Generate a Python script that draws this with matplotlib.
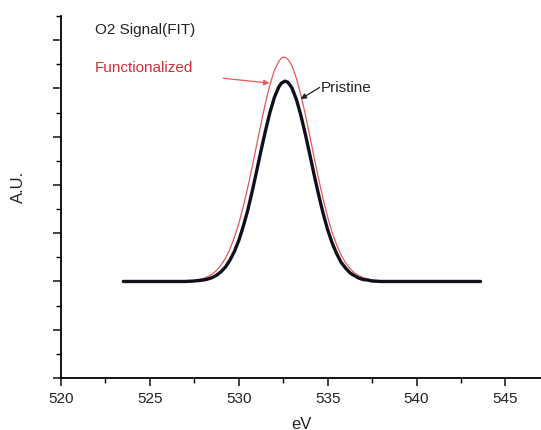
import matplotlib
matplotlib.use("Agg")
import matplotlib.pyplot as plt
from matplotlib.ticker import MultipleLocator

plt.rcParams['font.family'] = ['Liberation Sans', 'DejaVu Sans']

# Binding energy (eV) and intensity (A.U.)
ev_pristine = [523.5, 527.0, 527.5, 527.75, 528.0, 528.25, 528.5, 528.75, 529.0, 529.25,
               529.5, 529.75, 530.0, 530.25, 530.5, 530.75, 531.0, 531.25, 531.5, 531.75,
               532.0, 532.25, 532.4, 532.6, 532.75, 532.9, 533.0, 533.25, 533.5, 533.75,
               534.0, 534.25, 534.5, 534.75, 535.0, 535.25, 535.5, 535.75, 536.0, 536.25,
               536.5, 536.75, 537.0, 537.25, 537.5, 538.0, 543.6]
au_pristine = [2.00, 2.00, 2.01, 2.02, 2.03, 2.05, 2.08, 2.13, 2.20, 2.30,
               2.44, 2.62, 2.85, 3.14, 3.47, 3.86, 4.28, 4.71, 5.12, 5.50,
               5.81, 6.03, 6.11, 6.15, 6.13, 6.06, 6.00, 5.76, 5.43, 5.04,
               4.62, 4.19, 3.78, 3.40, 3.07, 2.80, 2.58, 2.40, 2.28, 2.18,
               2.12, 2.07, 2.04, 2.03, 2.01, 2.00, 2.00]

ev_func = [523.5, 527.0, 527.5, 527.75, 528.0, 528.25, 528.5, 528.75, 529.0, 529.25,
           529.5, 529.75, 530.0, 530.25, 530.5, 530.75, 531.0, 531.25, 531.5, 531.75,
           532.0, 532.25, 532.4, 532.55, 532.75, 532.9, 533.0, 533.25, 533.5, 533.75,
           534.0, 534.25, 534.5, 534.75, 535.0, 535.25, 535.5, 535.75, 536.0, 536.25,
           536.5, 536.75, 537.0, 537.25, 537.5, 538.0, 538.5, 543.6]
au_func = [2.00, 2.01, 2.02, 2.04, 2.06, 2.10, 2.15, 2.23, 2.34, 2.48,
           2.67, 2.91, 3.20, 3.55, 3.94, 4.37, 4.82, 5.27, 5.70, 6.07,
           6.37, 6.56, 6.63, 6.65, 6.61, 6.53, 6.46, 6.20, 5.85, 5.45,
           5.00, 4.55, 4.11, 3.70, 3.33, 3.02, 2.76, 2.55, 2.39, 2.27,
           2.18, 2.12, 2.08, 2.05, 2.03, 2.01, 2.00, 2.00]

fig = plt.figure(figsize=(5.41, 4.31), dpi=100)
ax = fig.add_axes([0.1128, 0.1206, 0.8872, 0.84])

ax.plot(ev_func, au_func, color='#e8585a', lw=0.9, solid_joinstyle='round')
ax.plot(ev_pristine, au_pristine, color='#10101c', lw=2.4, solid_joinstyle='round',
        solid_capstyle='round')

ax.set_xlim(520, 547)
ax.set_ylim(0, 7.5)
ax.xaxis.set_major_locator(MultipleLocator(5))
ax.xaxis.set_minor_locator(MultipleLocator(2.5))
ax.yaxis.set_major_locator(MultipleLocator(1))
ax.yaxis.set_minor_locator(MultipleLocator(0.5))
ax.set_yticklabels([])

ax.spines['top'].set_visible(False)
ax.spines['right'].set_visible(False)
ax.spines['left'].set_linewidth(1.3)
ax.spines['bottom'].set_linewidth(1.3)
ax.tick_params(which='major', direction='out', length=6, width=1.2, labelsize=11, colors='#222222')
ax.tick_params(which='minor', direction='out', length=3.5, width=1.0)

ax.set_xlabel('eV', fontsize=12, color='#222222')
ax.xaxis.set_label_coords(0.5, -0.105)
ax.set_ylabel('A.U.', fontsize=12, color='#222222')
ax.yaxis.set_label_coords(-0.072, 0.53)

ax.text(521.9, 7.23, 'O2 Signal(FIT)', fontsize=11, color='#222222', va='center')
ax.text(521.9, 6.44, 'Functionalized', fontsize=11, color='#d0303a', va='center')
ax.annotate('', xy=(531.72, 6.11), xytext=(529.12, 6.21),
            arrowprops=dict(arrowstyle='-|>', color='#e8585a', lw=0.9,
                            mutation_scale=8, shrinkA=0, shrinkB=0))
ax.text(534.6, 6.02, 'Pristine', fontsize=11, color='#222222', va='center')
ax.annotate('', xy=(533.48, 5.78), xytext=(534.55, 6.02),
            arrowprops=dict(arrowstyle='-|>', color='#222222', lw=0.9,
                            mutation_scale=8, shrinkA=0, shrinkB=0))

fig.savefig('out.png', dpi=100)
